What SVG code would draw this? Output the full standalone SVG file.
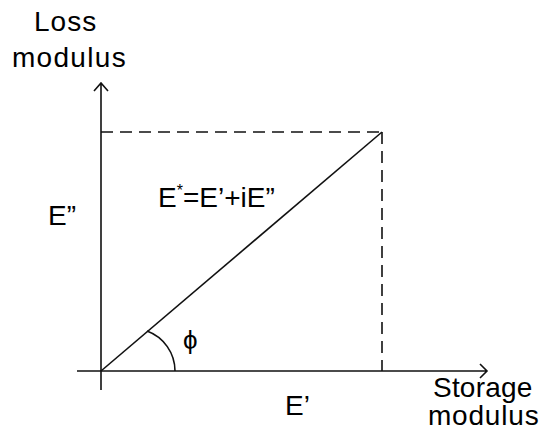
<svg xmlns="http://www.w3.org/2000/svg" width="546" height="439" viewBox="0 0 546 439">
<style>
text{font-family:"Liberation Sans",Arial,sans-serif;fill:#000}
.lbl{font-size:28px}
.ax{stroke:#111;stroke-width:1.6;fill:none}
.dash{stroke:#111;stroke-width:1.6;fill:none;stroke-dasharray:12 7}
</style>
<rect width="546" height="439" fill="#fff"/>
<g id="connectors">
<path class="ax" d="M101,390 V83 M94,91 L101,83 L108,91"/>
<path class="ax" d="M77,371 H487 M480,364 L487,371 L480,378"/>
<path class="dash" d="M101,132 H382"/>
<path class="dash" d="M382,132 V371"/>
<path class="ax" d="M101,371 L382,132"/>
<path class="ax" d="M147,331 A42.6 42.6 0 0 1 175,371"/>
</g>
<g id="y-axis-label">
<text class="lbl" x="34" y="31" letter-spacing="1">Loss</text>
<text class="lbl" x="12" y="67" letter-spacing="1.3">modulus</text>
</g>
<g id="x-axis-label">
<text class="lbl" x="433" y="397" letter-spacing="0.2">Storage</text>
<text class="lbl" x="428" y="425" letter-spacing="0.8">modulus</text>
</g>
<g id="loss-label"><text class="lbl" x="48" y="225">E”</text></g>
<g id="storage-label"><text class="lbl" x="285" y="415">E’</text></g>
<g id="equation"><text x="158" y="207" font-size="28">E<tspan font-size="16" dy="-11">*</tspan><tspan dy="11">=E’+iE”</tspan></text></g>
<g id="phi"><text x="183" y="349" font-size="26">ϕ</text></g>
</svg>
